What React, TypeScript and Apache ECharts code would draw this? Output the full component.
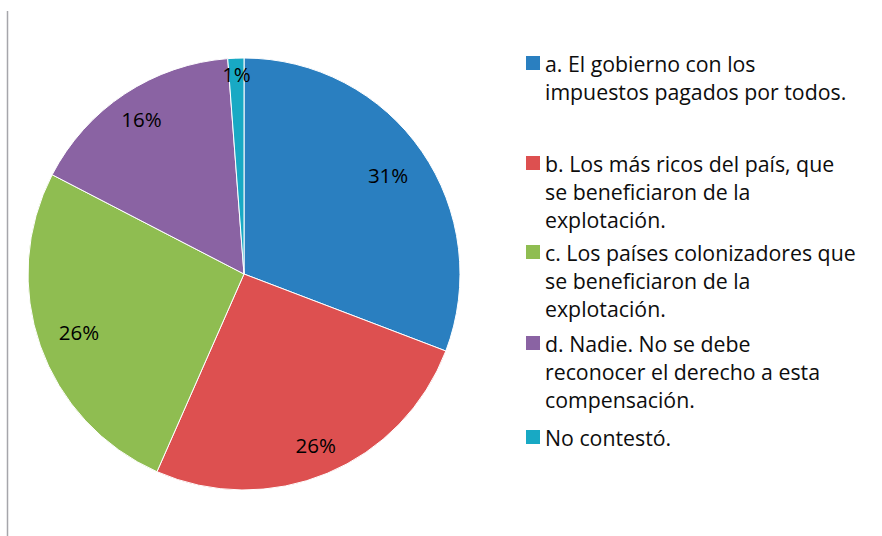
import React, { useEffect, useRef } from "react";
import * as echarts from "echarts";

const categories = [
  "a. El gobierno con los\nimpuestos pagados por todos.",
  "b. Los más ricos del país, que\nse beneficiaron de la\nexplotación.",
  "c. Los países colonizadores que\nse beneficiaron de la\nexplotación.",
  "d. Nadie. No se debe\nreconocer el derecho a esta\ncompensación.",
  "No contestó.",
];
const values = [30.8, 25.8, 26.0, 16.2, 1.2];
const colors = ["#2A7FC0", "#DD5050", "#8FBD51", "#8A63A3", "#18A9C4"];

const FONT = "'Open Sans', sans-serif";
const LH = 28;

export default function App() {
  const ref = useRef<HTMLDivElement>(null);
  useEffect(() => {
    if (!ref.current) return;
    const chart = echarts.init(ref.current, undefined, { renderer: "svg" });
    const cx = 244;
    const cy = 274;
    const R = 216;
    const data = categories.map((name, i) => ({
      name,
      value: values[i],
      itemStyle: { color: colors[i] },
    }));
    const total = values.reduce((a, b) => a + b, 0);
    const labelGroups = [
      { frac: 0.81, items: [0, 2] },
      { frac: 0.86, items: [1, 3] },
      { frac: 0.925, items: [4] },
    ];
    const firstLineCenters = [63, 163, 252, 343, 437];
    const legends = categories.map((name, i) => {
      const n = name.split("\n").length;
      return {
        data: [name],
        left: 526,
        top: firstLineCenters[i] - (2 * n - 1) * (LH / 2),
        padding: 0,
        icon: "rect",
        itemWidth: 14,
        itemHeight: 14,
        itemStyle: { borderWidth: 0 },
        selectedMode: false,
        formatter: (nm: string) => "\n".repeat(n - 1) + nm,
        textStyle: {
          fontFamily: FONT,
          fontSize: 21.3,
          color: "#0d0d0d",
          lineHeight: LH,
        },
      };
    });
    const labelSeries = labelGroups.map((g) => {
      const r0 = (2 * g.frac - 1) * R - 6;
      return {
        type: "pie",
        silent: true,
        center: [cx, cy],
        radius: [r0, R],
        startAngle: 90,
        clockwise: true,
        avoidLabelOverlap: false,
        labelLine: { show: false },
        emphasis: { disabled: true },
        itemStyle: { color: "rgba(0,0,0,0)", borderWidth: 0 },
        label: {
          show: true,
          position: "inside",
          fontFamily: FONT,
          fontSize: 20.5,
          color: "#000",
          formatter: (p: any) => Math.round((p.value / total) * 100) + "%",
        },
        data: categories.map((name, i) => ({
          name,
          value: values[i],
          itemStyle: { color: "rgba(0,0,0,0)" },
          label: { show: g.items.includes(i) },
        })),
        z: 3,
      };
    });
    chart.setOption({
      animation: false,
      backgroundColor: "#fff",
      color: colors,
      legend: legends,
      graphic: [
        {
          type: "line",
          shape: { x1: 7.5, y1: 11, x2: 7.5, y2: 536 },
          style: { stroke: "#a6a6ab", lineWidth: 1.5 },
          silent: true,
        },
      ],
      series: [
        {
          type: "pie",
          center: [cx, cy],
          radius: [0, R],
          startAngle: 90,
          clockwise: true,
          label: { show: false },
          labelLine: { show: false },
          itemStyle: { borderColor: "#ffffff", borderWidth: 1 },
          emphasis: { scale: false },
          data,
          z: 2,
        },
        ...labelSeries,
      ],
    });
    return () => chart.dispose();
  }, []);
  return (
    <div
      ref={ref}
      style={{ position: "absolute", left: 0, top: 0, width: 882, height: 536 }}
    />
  );
}
